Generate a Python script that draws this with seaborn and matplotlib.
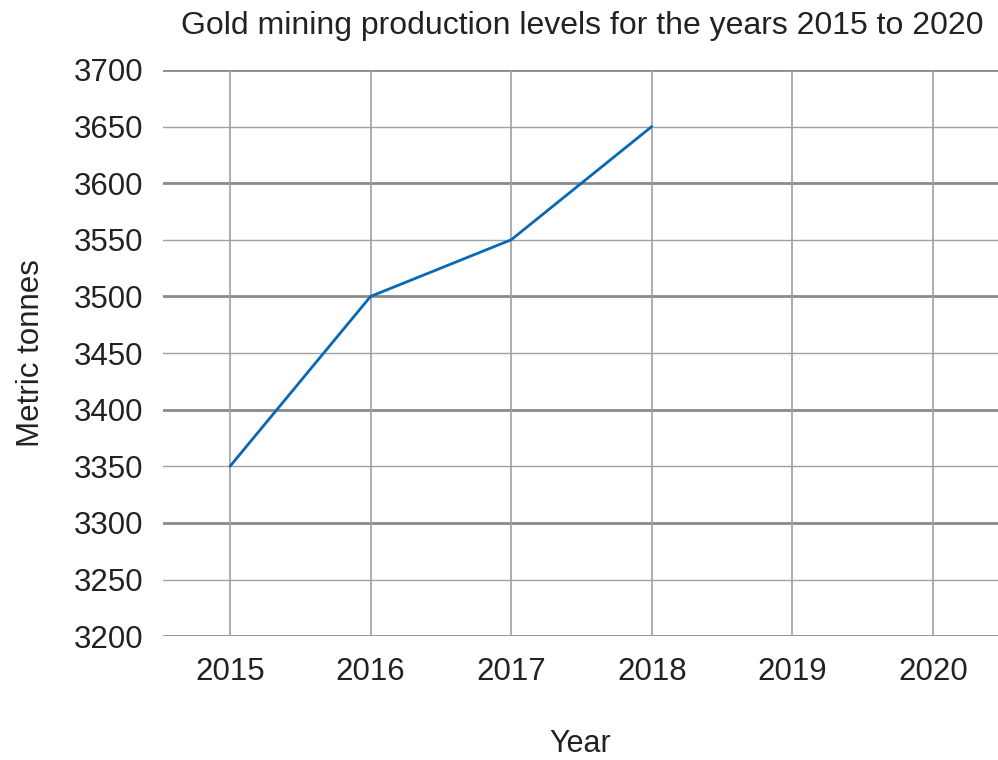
import numpy as np
import pandas as pd
import matplotlib.pyplot as plt
import seaborn as sns

# data (2019, 2020 have no values)
years = [2015, 2016, 2017, 2018, 2019, 2020]
tonnes = [3350, 3500, 3550, 3650, np.nan, np.nan]

df = pd.DataFrame({"Year": years, "Metric tonnes": tonnes})

sns.set_style("white")
plt.rcParams["font.family"] = ["Liberation Sans", "DejaVu Sans"]

fig = plt.figure(figsize=(9.98, 7.6), dpi=100)
ax = fig.add_axes([0.1633, 0.163, 0.8367, 0.745])

sns.lineplot(data=df.dropna(), x="Year", y="Metric tonnes", ax=ax,
             color="#0868b4", linewidth=2, zorder=3)

ax.set_xlim(2014.523, 2020.463)
ax.set_ylim(3200, 3700)
ax.set_xticks(years)
ax.set_xticklabels([str(y) for y in years])
ax.set_yticks(np.arange(3200, 3701, 50))

# grid: heavier lines on the hundreds
for v in np.arange(3200, 3701, 50):
    if v % 100 == 0:
        ax.axhline(v, color="#8a8a8a", linewidth=2, zorder=1)
    else:
        ax.axhline(v, color="#a0a0a0", linewidth=1, zorder=1)
for y in years:
    ax.axvline(y, color="#a0a0a0", linewidth=1.2, zorder=1)

for s in ax.spines.values():
    s.set_visible(False)

ax.tick_params(axis="both", length=0, labelsize=22.5, colors="#222222")
ax.tick_params(axis="y", pad=14)
ax.tick_params(axis="x", pad=15)

ax.set_xlabel("Year", fontsize=22, color="#222222", labelpad=30)
ax.set_ylabel("Metric tonnes", fontsize=22.5, color="#222222", labelpad=20)
fig.text(0.583, 0.966, "Gold mining production levels for the years 2015 to 2020",
         ha="center", va="center", fontsize=23, color="#222222")

fig.savefig("out.png", dpi=100)
